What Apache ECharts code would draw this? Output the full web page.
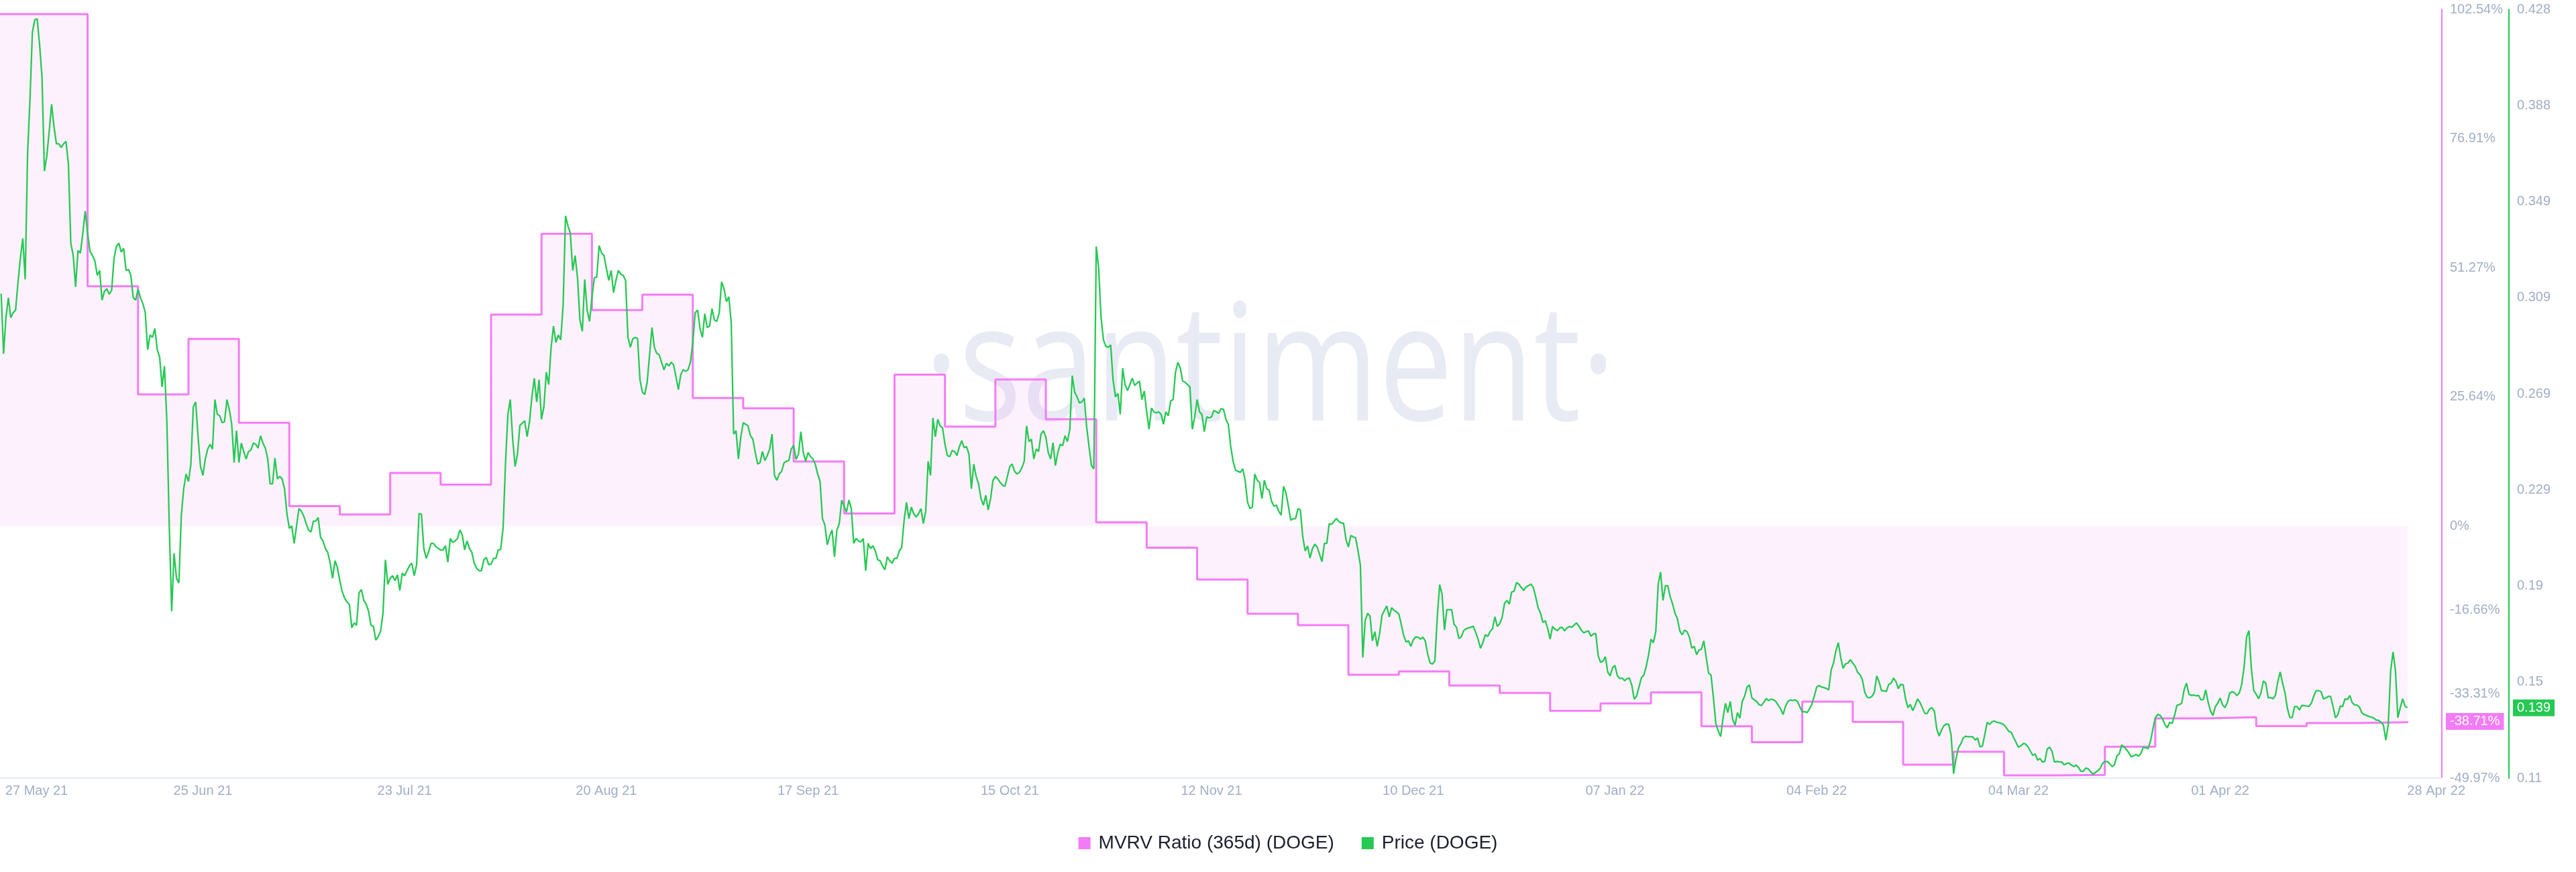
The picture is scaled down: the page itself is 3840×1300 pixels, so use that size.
<!DOCTYPE html>
<html>
<head>
<meta charset="utf-8">
<script src="https://cdn.jsdelivr.net/npm/echarts@6.0.0/dist/echarts.min.js"></script>
<style>
html,body{margin:0;padding:0;background:#fff;}
#chart{width:3840px;height:1300px;}
</style>
</head>
<body>
<div id="chart"></div>
<script>
// ---------- DATA ----------
const seriesNames = ['MVRV Ratio (365d) (DOGE)', 'Price (DOGE)'];

// MVRV ratio (365d), weekly values in %, starting 2021-05-26
const mvrvStart = '2021-05-26';
const mvrvValues = [101.6, 101.6, 47.6, 26.15, 37.17, 20.54, 4.0, 2.33, 10.59, 8.24,
  42.0, 58.04, 42.88, 45.94, 25.46, 23.4, 12.86, 2.53, 30.09, 19.75,
  29.1, 21.23, 0.76, -4.27, -10.57, -17.35, -19.63, -29.48, -28.81, -31.6,
  -33.06, -36.62, -35.17, -32.98, -39.7, -42.84, -34.8, -38.82, -47.3, -44.74,
  -49.44, -49.35, -43.76, -38.13, -37.9, -39.64, -39.06, -38.88, -38.71];

// DOGE price (USD), every 8 hours starting 2021-05-28
const priceStart = '2021-05-28';
const priceStepHours = 8;
const priceValues = [
.3104,.2855,.3005,.3087,.3005,.3025,.3036,.3149,.3251,.3333,
.3163,.3683,.3908,.4185,.4237,.4241,.4134,.4001,.3611,.3672,
.3775,.3888,.3795,.3724,.3724,.3709,.3724,.3734,.3641,.3313,
.3262,.3132,.3282,.3272,.3354,.3446,.3354,.3278,.3262,.3241,
.3180,.3200,.3077,.3114,.3124,.3102,.3118,.3251,.3299,.3313,
.3276,.3292,.3200,.3204,.3180,.3087,.3077,.3122,.3087,.3063,
.3025,.2872,.2933,.2923,.2960,.2872,.2841,.2718,.2804,.2574,
.2143,.1790,.2030,.1927,.1907,.2184,.2297,.2358,.2327,.2399,
.2636,.2656,.2512,.2389,.2352,.2420,.2461,.2481,.2461,.2666,
.2605,.2599,.2570,.2574,.2666,.2625,.2564,.2405,.2537,.2405,
.2486,.2451,.2420,.2451,.2457,.2486,.2481,.2465,.2516,.2486,
.2465,.2420,.2317,.2317,.2424,.2338,.2348,.2338,.2297,.2194,
.2133,.2143,.2071,.2143,.2215,.2204,.2184,.2153,.2126,.2118,
.2163,.2163,.2178,.2096,.2081,.2050,.2034,.1989,.1927,.1999,
.1972,.1917,.1872,.1845,.1829,.1818,.1722,.1742,.1732,.1866,
.1880,.1835,.1820,.1790,.1732,.1728,.1671,.1685,.1708,.1783,
.2003,.1901,.1927,.1937,.1917,.1941,.1876,.1948,.1937,.1958,
.1978,.1989,.1937,.1983,.2194,.2192,.2050,.2009,.2036,.2071,
.2071,.2057,.2050,.2044,.2044,.2061,.1993,.2091,.2075,.2081,
.2091,.2126,.2106,.2044,.2081,.2050,.2034,.1989,.1968,.1958,
.1958,.2003,.2013,.1983,.1985,.2009,.2009,.2044,.2046,.2133,
.2399,.2605,.2666,.2502,.2389,.2440,.2559,.2568,.2578,.2512,
.2574,.2677,.2754,.2656,.2748,.2584,.2636,.2779,.2728,.2882,
.2970,.2902,.2933,.2913,.3056,.3426,.3385,.3354,.3200,.3262,
.3169,.2995,.2948,.3163,.3036,.2989,.3087,.3169,.3173,.3303,
.3272,.3262,.3210,.3159,.3200,.3108,.3159,.3200,.3184,.3180,
.3159,.2923,.2882,.2917,.2923,.2919,.2748,.2697,.2687,.2738,
.2851,.2964,.2882,.2857,.2851,.2820,.2789,.2816,.2805,
.2820,.2810,.2759,.2707,.2769,.2789,.2783,.2789,.2820,.2902,
.3025,.3036,.2960,.2923,.3021,.2964,.2970,.3042,.2995,
.2989,.3025,.3153,.3124,.3071,.3091,.2985,.2523,.2537,.2420,
.2512,.2570,.2564,.2557,.2516,.2502,.2447,.2399,.2405,.2451,
.2414,.2434,.2461,.2523,.2352,.2332,.2358,.2369,.2405,.2410,
.2414,.2461,.2477,.2418,.2440,.2533,.2447,.2410,.2447,
.2430,.2420,.2399,.2358,.2327,.2173,.2147,.2065,.2102,.2126,
.2015,.2126,.2153,.2250,.2225,.2200,.2250,.2215,.2071,.2091,
.2081,.2077,.2091,.1958,.2071,.2050,.2061,.2040,.2003,.1999,
.1978,.1962,.2015,.1999,.1989,.2009,.2009,.2040,.2055,.2167,
.2241,.2173,.2221,.2194,.2180,.2194,.2215,.2153,.2204,.2410,
.2352,.2590,.2512,.2584,.2557,.2549,.2481,.2434,.2430,.2455,
.2451,.2434,.2471,.2496,.2467,.2471,.2440,.2297,.2399,.2348,
.2317,.2256,.2229,.2270,.2209,.2256,.2332,.2348,.2338,.2323,
.2311,.2307,.2348,.2389,.2399,.2369,.2358,.2365,.2383,.2410,
.2557,.2492,.2502,.2420,.2461,.2451,.2523,.2537,.2512,.2447,
.2420,.2488,.2393,.2447,.2481,.2475,.2516,.2492,.2543,.2765,
.2697,.2677,.2652,.2656,.2672,.2553,.2471,.2393,.2379,.3299,
.3210,.3005,.2913,.2886,.2882,.2892,.2748,.2677,.2691,.2605,
.2796,.2728,.2703,.2728,.2754,.2724,.2734,.2742,.2666,.2701,
.2615,.2543,.2631,.2615,.2611,.2615,.2605,.2564,.2615,.2599,
.2660,.2666,.2779,.2820,.2796,.2742,.2738,.2728,.2718,.2543,
.2594,.2666,.2615,.2605,.2533,.2594,.2590,.2594,.2621,.2615,
.2609,.2629,.2625,.2584,.2564,.2471,.2410,.2373,.2369,.2365,
.2379,.2332,.2241,.2215,.2221,.2358,.2332,.2323,.2256,.2332,
.2297,.2291,.2245,.2225,.2229,.2204,.2188,.2307,.2280,.2225,
.2167,.2173,.2173,.2215,.2209,.2098,.2040,.2060,
.2010,.2048,.2068,.2056,.2025,.1995,.2071,.2071,.2152,.2150,
.2162,.2174,.2162,.2155,.2155,.2086,.2056,.2104,.2098,.2094,
.2040,.1980,.1599,.1751,.1782,.1770,.1668,.1706,.1645,.1698,
.1774,.1794,.1812,.1767,.1805,.1794,.1788,.1779,.1736,.1690,
.1663,.1668,.1645,.1672,.1684,.1683,.1675,.1683,.1668,.1614,
.1576,.1572,.1584,.1767,.1900,.1861,.1713,.1797,.1797,.1797,
.1736,.1724,.1678,.1684,.1710,.1718,.1721,.1724,.1728,.1703,
.1675,.1637,.1660,.1693,.1686,.1706,.1718,.1767,.1728,.1739,
.1764,.1823,.1835,.1820,.1870,.1873,.1909,.1902,.1888,.1876,
.1891,.1896,.1903,.1888,.1849,.1805,.1782,.1744,.1751,.1718,
.1675,.1727,.1716,.1710,.1721,.1724,.1709,.1721,.1727,.1724,
.1733,.1742,.1728,.1712,.1701,.1706,.1709,.1687,.1696,.1698,
.1607,.1579,.1584,.1602,.1538,.1523,.1557,.1566,.1523,.1512,
.1514,.1503,.1511,.1514,.1485,.1427,.1439,.1477,.1515,.1526,
.1561,.1610,.1675,.1660,.1706,.1903,.1952,.1835,.1896,.1896,
.1850,.1820,.1782,.1759,.1709,.1693,.1712,.1706,.1683,.1637,
.1645,.1611,.1630,.1633,.1668,.1599,.1534,.1526,.1432,.1325,
.1295,.1272,.1348,.1409,.1371,.1417,.1343,.1318,.1371,.1348,
.1417,.1439,.1477,.1485,.1432,.1424,.1417,.1404,.1400,.1414,
.1429,.1420,.1427,.1424,.1417,.1401,.1386,.1363,.1397,.1417,
.1423,.1421,.1424,.1417,.1394,.1374,.1375,.1371,.1386,.1406,
.1439,.1477,.1483,.1477,.1474,.1471,.1465,.1546,.1576,.1627,
.1660,.1599,.1554,.1572,.1576,.1590,.1576,.1563,.1538,.1528,
.1508,.1455,.1435,.1432,.1438,.1455,.1523,
.1498,.1461,.1461,.1458,.1488,.1493,.1514,.1499,.1470,.1488,
.1486,.1428,.1391,.1405,.1379,.1401,.1428,.1413,.1391,.1368,
.1367,.1386,.1391,.1377,.1303,.1274,.1299,.1317,.1324,.1322,
.1276,.1118,.1179,.1225,.1241,.1266,.1273,.1271,.1271,.1271,
.1257,.1266,.1229,.1232,.1280,.1331,.1322,.1333,.1336,.1331,
.1329,.1326,.1320,.1308,.1293,.1290,.1268,.1248,.1228,.1233,
.1243,.1241,.1229,.1211,.1194,.1200,.1174,.1181,.1166,.1169,
.1220,.1228,.1211,.1166,.1169,.1167,.1167,.1155,.1160,.1163,
.1154,.1148,.1154,.1144,.1128,.1128,.1141,.1139,.1128,.1116,
.1123,.1130,.1139,.1160,.1169,.1168,.1160,.1148,.1155,.1191,
.1200,.1237,.1229,.1218,.1204,.1188,.1192,.1198,.1191,.1202,
.1228,.1225,.1222,.1253,.1303,.1350,.1363,.1360,.1345,.1322,
.1308,.1331,.1326,.1359,.1401,.1404,.1410,.1465,.1493,.1447,
.1442,.1444,.1440,.1442,.1424,.1425,.1465,.1414,.1377,.1359,
.1396,.1410,.1431,.1403,.1391,.1413,.1452,.1457,.1453,.1441,
.1453,.1488,.1562,.1683,.1710,.1553,.1461,.1447,.1428,.1452,
.1502,.1493,.1433,.1433,.1428,.1442,.1498,.1539,.1493,.1452,
.1389,.1351,.1350,.1396,.1396,.1382,.1401,.1400,.1398,.1397,
.1410,.1440,.1462,.1462,.1458,.1428,.1431,.1438,.1438,.1396,
.1350,.1361,.1398,.1396,.1428,.1425,.1442,.1412,.1403,.1402,
.1394,.1370,.1363,.1359,.1355,.1352,.1348,.1340,.1339,.1331,
.1319,.1257,.1322,.1544,.1622,.1544,.1350,.1391,.1428,.1397,
.1391
];

// Axis ticks
const mvrvTicks = [-49.97, -33.31, -16.66, 0, 25.64, 51.27, 76.91, 102.54];
const priceTicks = [0.11, 0.14975, 0.1895, 0.22925, 0.269, 0.30875, 0.3485, 0.38825, 0.428];
const priceTickLabels = ['0.11', '0.15', '0.19', '0.229', '0.269', '0.309', '0.349', '0.388', '0.428'];
const xTickLabels = ['27 May 21', '25 Jun 21', '23 Jul 21', '20 Aug 21', '17 Sep 21', '15 Oct 21',
  '12 Nov 21', '10 Dec 21', '07 Jan 22', '04 Feb 22', '04 Mar 22', '01 Apr 22', '28 Apr 22'];
const xTickAt = ['2021-06-01T22:00:00Z', '2021-06-25', '2021-07-23', '2021-08-20', '2021-09-17', '2021-10-15',
  '2021-11-12', '2021-12-10', '2022-01-07', '2022-02-04', '2022-03-04', '2022-04-01', '2022-05-01'];
const xRange = ['2021-05-27', '2022-05-01T18:30:00Z'];

// ---------- BUILD ----------
const DAY = 864e5;
const PINK = '#f47bf7';
const GREEN = '#26c953';
const LABEL = '#a2adc7';
const FONT = '"Liberation Sans", Arial, sans-serif';

const mvrvT0 = Date.parse(mvrvStart);
const mvrvData = mvrvValues.map((v, i) => [mvrvT0 + i * 7 * DAY, v]);
const priceT0 = Date.parse(priceStart);
const priceData = priceValues.map((v, i) => [priceT0 + i * priceStepHours * 3600e3, v]);

const xTickTimes = xTickAt.map(s => Date.parse(s));

function xLabel(v) {
  let best = 0;
  xTickTimes.forEach((t, i) => { if (Math.abs(t - v) < Math.abs(xTickTimes[best] - v)) best = i; });
  return xTickLabels[best];
}
function priceLabel(v) {
  let best = 0;
  priceTicks.forEach((t, i) => { if (Math.abs(t - v) < Math.abs(priceTicks[best] - v)) best = i; });
  return priceTickLabels[best];
}

const lastMvrv = mvrvValues[mvrvValues.length - 1];
const lastPrice = priceValues[priceValues.length - 1];

const chart = echarts.init(document.getElementById('chart'), null, { renderer: 'canvas' });

const option = {
  animation: false,
  backgroundColor: '#ffffff',
  textStyle: { fontFamily: FONT },
  graphic: [{
    type: 'text',
    z: -10,
    silent: true,
    x: 1893,
    y: 558,
    scaleX: 0.81,
    style: {
      text: '\u00B7santiment\u00B7',
      fontFamily: '"Open Sans", "Noto Sans", sans-serif',
      fontSize: 243,
      fill: '#e8ebf4',
      align: 'center',
      verticalAlign: 'middle',
      textAlign: 'center',
      textVerticalAlign: 'middle'
    }
  }],
  grid: {
    left: -9,
    right: 200,
    top: 14,
    bottom: 140,
    outerBoundsMode: 'none',
    containLabel: false
  },
  legend: {
    data: seriesNames,
    top: 1238,
    left: 'center',
    icon: 'rect',
    itemWidth: 18,
    itemHeight: 18,
    itemGap: 41,
    textStyle: { fontSize: 28, color: '#1b1f2e', fontFamily: FONT, padding: [0, 0, 0, 7] }
  },
  xAxis: {
    type: 'value',
    min: Date.parse(xRange[0]),
    max: Date.parse(xRange[1]),
    axisLine: { show: true, onZero: false, lineStyle: { color: '#e3e8f1', width: 2 } },
    axisTick: { show: false },
    splitLine: { show: false },
    axisLabel: {
      customValues: xTickTimes,
      formatter: v => xLabel(v),
      color: LABEL,
      fontSize: 20,
      fontFamily: FONT,
      margin: 9,
      hideOverlap: false
    }
  },
  yAxis: [
    {
      type: 'value',
      position: 'right',
      min: -49.97,
      max: 102.54,
      splitLine: { show: false },
      axisTick: { show: false },
      axisLine: { show: true, lineStyle: { color: PINK, width: 2 } },
      axisLabel: {
        customValues: mvrvTicks,
        formatter: v => v + '%',
        color: LABEL,
        fontSize: 20,
        fontFamily: FONT,
        margin: 12
      },
      axisPointer: {
        show: true,
        status: 'show',
        type: 'line',
        value: lastMvrv,
        snap: false,
        triggerTooltip: false,
        lineStyle: { opacity: 0, width: 0 },
        handle: { show: false },
        label: {
          show: true,
          formatter: p => Number(p.value).toFixed(2) + '%',
          backgroundColor: PINK,
          color: '#ffffff',
          fontSize: 20,
          fontFamily: FONT,
          padding: [3, 6, 2, 6],
          margin: 6,
          shadowBlur: 0,
          borderRadius: 0
        }
      }
    },
    {
      type: 'value',
      position: 'right',
      offset: 100,
      min: 0.11,
      max: 0.428,
      splitLine: { show: false },
      axisTick: { show: false },
      axisLine: { show: true, lineStyle: { color: GREEN, width: 2 } },
      axisLabel: {
        customValues: priceTicks,
        formatter: v => priceLabel(v),
        color: LABEL,
        fontSize: 20,
        fontFamily: FONT,
        margin: 12
      },
      axisPointer: {
        show: true,
        status: 'show',
        type: 'line',
        value: lastPrice,
        snap: false,
        triggerTooltip: false,
        lineStyle: { opacity: 0, width: 0 },
        handle: { show: false },
        label: {
          show: true,
          formatter: p => Number(p.value).toFixed(3),
          backgroundColor: GREEN,
          color: '#ffffff',
          fontSize: 20,
          fontFamily: FONT,
          padding: [3, 6, 2, 6],
          margin: 6,
          shadowBlur: 0,
          borderRadius: 0
        }
      }
    }
  ],
  series: [
    {
      name: seriesNames[0],
      type: 'line',
      yAxisIndex: 0,
      step: 'end',
      symbol: 'none',
      z: 2,
      data: mvrvData,
      lineStyle: { color: PINK, width: 3 },
      itemStyle: { color: PINK },
      areaStyle: { color: 'rgba(244,123,247,0.15)', origin: 0 },
      emphasis: { disabled: true },
      markLine: {
        silent: true,
        symbol: ['none', 'none'],
        label: { show: false },
        lineStyle: { color: PINK, width: 1.5, type: 'solid' },
        data: [[{ coord: [mvrvData[0][0], 0] }, { coord: [mvrvData[mvrvData.length - 1][0], 0] }]]
      }
    },
    {
      name: seriesNames[1],
      type: 'line',
      yAxisIndex: 1,
      symbol: 'none',
      z: 3,
      data: priceData,
      lineStyle: { color: GREEN, width: 2.3 },
      itemStyle: { color: GREEN },
      emphasis: { disabled: true }
    }
  ]
};

chart.setOption(option);
</script>
</body>
</html>
